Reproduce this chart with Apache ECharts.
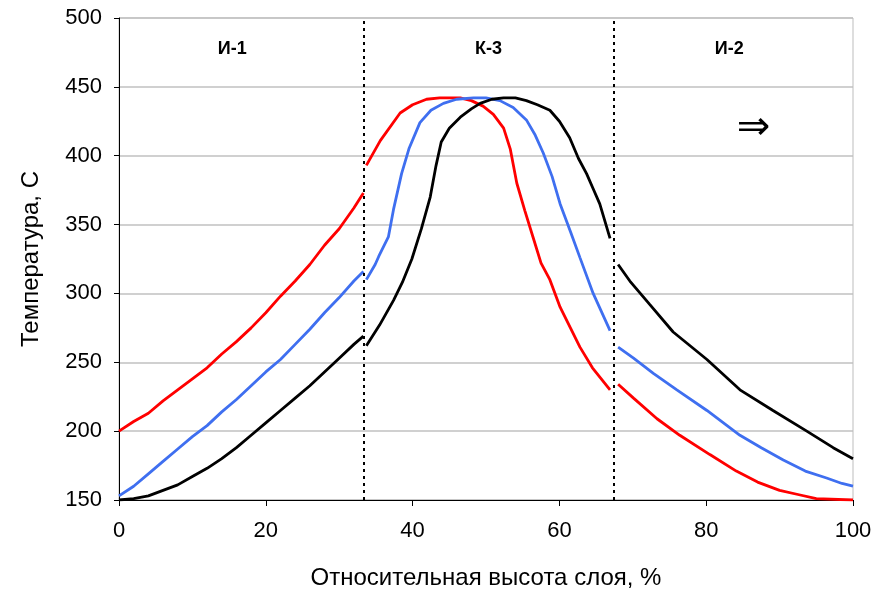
<!DOCTYPE html>
<html>
<head>
<meta charset="utf-8">
<script src="https://cdn.jsdelivr.net/npm/echarts@6/dist/echarts.min.js"></script>
<style>
  html, body { margin: 0; padding: 0; background: #fff; }
  #chart { width: 884px; height: 590px; }
</style>
</head>
<body>
<div id="chart"></div>
<script>
// зона И-1
const red1 = [[0,200],[2,207],[4,213],[6,222],[8,230],[10,238],[12,246],[14,256],[16,265],[18,275],[20,286],[22,298],[24,309],[26,321],[28,335],[30,347],[32,362],[33.3,373]]
const blue1 = [[0,153],[2,160],[4,169],[6,178],[8,187],[10,196],[12,204],[14,214],[16,223],[18,233],[20,243],[22,252],[24,263],[26,274],[28,286],[30,297],[32,309],[33.3,316]]
const black1 = [[0,150],[2,151],[4,153],[6,157],[8,161],[10,167],[12,173],[14,180],[16,188],[18,197],[20,206],[22,215],[24,224],[26,233],[28,243],[30,253],[32,263],[33.3,269]]
// зона К-3
const red2 = [[33.7,393],[35.6,411],[38.3,431],[40,437],[41.9,441],[43.7,442],[46.5,442],[48,440],[49.6,436],[51,430],[52.4,420],[53.3,405],[54.2,380],[55.3,360],[56.4,341],[57.5,322],[58.7,310],[60.1,290],[61.5,275],[62.8,261],[64.5,246],[66.9,230]]
const blue2 = [[33.7,310],[34.9,321],[35.4,327],[36.7,341],[37.4,361],[38.5,387],[39.5,405],[41,424],[42.5,433],[44.2,438],[46,441],[48.3,442],[50,442],[51.9,440],[53.7,435],[55.5,426],[56.7,415],[57.8,402],[59,385],[60.1,365],[61.5,345],[62.8,326],[64.6,300],[66.9,273]]
const black2 = [[33.7,262],[35.5,277],[37.4,295],[38.6,308],[39.9,325],[41.2,347],[42.4,370],[43.2,393],[43.9,410],[45,420],[46.5,428],[48,434],[49.2,438],[50.8,441],[52.4,442],[54,442],[55.5,440],[57,437],[58.7,433],[60,425],[61.4,413],[62.6,398],[63.7,387],[64.6,376],[65.5,365],[66.9,340]]
// зона И-2
const red3 = [[68,234],[70.1,224],[73.3,209],[76.4,197],[80.5,183],[84.1,171],[87,163],[90,157],[92.5,154],[95,151],[100,150]]
const blue3 = [[68,261],[70.1,253],[72.8,242],[76,230],[80.1,215],[84.6,197],[87.5,188],[90.5,179],[93.5,171],[96.4,166],[98.5,162],[100,160]]
const black3 = [[68,321],[69.6,309],[72.3,292],[75.5,272],[80.1,252],[84.6,230],[89.1,215],[93.7,200],[97.3,188],[100,180]]

const zoneBorders = [33.4, 67.4]
const zoneNames = ['И-1', 'К-3', 'И-2']
const zoneNamePos = [[15.5, 477], [50.4, 477], [83.2, 477]]
const arrowPos = [86.5, 419]

const font = "'Liberation Sans', Arial, sans-serif"

function curve(data, color) {
  return {
    type: 'line',
    data,
    symbol: 'none',
    lineStyle: { color, width: 2.8 },
    z: 3
  }
}

function textMarks(items, style) {
  return {
    type: 'scatter',
    symbol: 'circle',
    symbolSize: 1,
    silent: true,
    itemStyle: { color: 'rgba(0,0,0,0)', opacity: 1 },
    data: items,
    label: Object.assign({
      show: true,
      position: [0, 0],
      align: 'center',
      verticalAlign: 'middle',
      formatter: '{b}',
      color: '#000'
    }, style)
  }
}

const chart = echarts.init(document.getElementById('chart'))
chart.setOption({
  animation: false,
  grid: {
    left: 119, right: 31, top: 18, bottom: 90,
    outerBoundsMode: 'none',
    show: true, borderColor: '#bdbdbd', borderWidth: 1
  },
  xAxis: {
    type: 'value',
    min: 0, max: 100, interval: 20,
    name: 'Относительная высота слоя, %',
    nameLocation: 'middle',
    nameGap: 66,
    nameTextStyle: { fontFamily: font, fontSize: 24, color: '#000' },
    axisLine: { lineStyle: { color: '#000', width: 1 } },
    axisTick: { show: true, length: 6, lineStyle: { color: '#000' } },
    axisLabel: { fontFamily: font, fontSize: 22, color: '#000', margin: 20 },
    splitLine: { show: false }
  },
  yAxis: {
    type: 'value',
    min: 150, max: 500, interval: 50,
    name: 'Температура, С',
    nameLocation: 'middle',
    nameGap: 76,
    nameTextStyle: { fontFamily: font, fontSize: 24, color: '#000' },
    axisLine: { show: true, lineStyle: { color: '#000', width: 1 } },
    axisTick: { show: true, length: 5, lineStyle: { color: '#000' } },
    axisLabel: { fontFamily: font, fontSize: 22, color: '#000', margin: 17 },
    splitLine: { lineStyle: { color: '#c0c0c0', width: 1.5 } }
  },
  series: [
    curve(red1, '#ff0000'), curve(blue1, '#3f6ff0'), curve(black1, '#000'),
    curve(red2, '#ff0000'), curve(blue2, '#3f6ff0'), curve(black2, '#000'),
    curve(red3, '#ff0000'), curve(blue3, '#3f6ff0'), curve(black3, '#000'),
    {
      type: 'line',
      data: [],
      markLine: {
        silent: true,
        symbol: 'none',
        label: { show: false },
        lineStyle: { color: '#000', type: [3, 4], width: 2 },
        data: zoneBorders.map(x => ({ xAxis: x }))
      }
    },
    textMarks(zoneNames.map((n, i) => ({ name: n, value: zoneNamePos[i] })),
      { fontFamily: font, fontWeight: 'bold', fontSize: 18 }),
    textMarks([{ name: '⇒', value: arrowPos }],
      { fontFamily: "'DejaVu Sans', sans-serif", fontSize: 40 })
  ]
})
</script>
</body>
</html>
